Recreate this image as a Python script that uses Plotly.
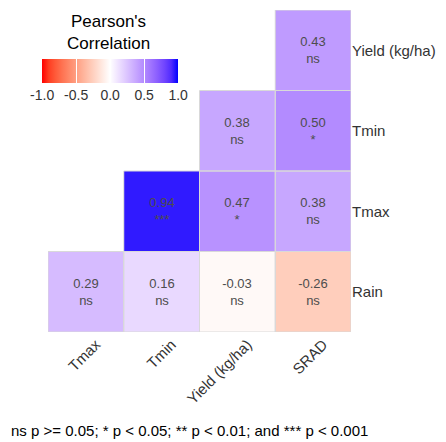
import plotly.graph_objects as go
import numpy as np

cols = ["Tmax", "Tmin", "Yield (kg/ha)", "SRAD"]
rows = ["Rain", "Tmax", "Tmin", "Yield (kg/ha)"]  # bottom to top
corr = [
    [0.29, 0.16, -0.03, -0.26],
    [None, 0.94, 0.47, 0.38],
    [None, None, 0.38, 0.50],
    [None, None, None, 0.43],
]
sig = [
    ["ns", "ns", "ns", "ns"],
    [None, "***", "*", "ns"],
    [None, None, "ns", "*"],
    [None, None, None, "ns"],
]
cbar_ticks = [-1.0, -0.5, 0.0, 0.5, 1.0]
caption = "ns p >= 0.05; * p < 0.05; ** p < 0.01; and *** p < 0.001"


def srgb_to_lab(c):
    c = np.array(c) / 255.0
    lin = np.where(c <= 0.04045, c / 12.92, ((c + 0.055) / 1.055) ** 2.4)
    M = np.array([[0.4124, 0.3576, 0.1805], [0.2126, 0.7152, 0.0722], [0.0193, 0.1192, 0.9505]])
    xyz = M @ lin / np.array([0.95047, 1.0, 1.08883])
    f = np.where(xyz > 0.008856, np.cbrt(xyz), 7.787 * xyz + 16 / 116)
    return np.array([116 * f[1] - 16, 500 * (f[0] - f[1]), 200 * (f[1] - f[2])])


def lab_to_srgb(lab):
    L, a, b = lab
    fy = (L + 16) / 116
    fx = fy + a / 500
    fz = fy - b / 200
    f = np.array([fx, fy, fz])
    xyz = np.where(f ** 3 > 0.008856, f ** 3, (f - 16 / 116) / 7.787) * np.array([0.95047, 1.0, 1.08883])
    Mi = np.array([[3.2406, -1.5372, -0.4986], [-0.9689, 1.8758, 0.0415], [0.0557, -0.2040, 1.0570]])
    lin = np.clip(Mi @ xyz, 0, 1)
    c = np.where(lin <= 0.0031308, 12.92 * lin, 1.055 * lin ** (1 / 2.4) - 0.055)
    c = np.clip(np.round(c * 255), 0, 255).astype(int)
    return "rgb(%d,%d,%d)" % tuple(c)


red, white, blue = srgb_to_lab((255, 0, 0)), srgb_to_lab((255, 255, 255)), srgb_to_lab((0, 0, 255))
cscale = []
n = 10
for i in range(n + 1):
    t = i / n
    cscale.append([t / 2, lab_to_srgb(red + (white - red) * t)])
for i in range(1, n + 1):
    t = i / n
    cscale.append([0.5 + t / 2, lab_to_srgb(white + (blue - white) * t)])

text = [[("%.2f<br>%s" % (v, s)) if v is not None else "" for v, s in zip(rv, rs)] for rv, rs in zip(corr, sig)]

FONT = "Liberation Sans, Arial"

fig = go.Figure()
fig.add_trace(go.Heatmap(
    z=corr, x=cols, y=rows, zmin=-1, zmax=1, colorscale=cscale,
    text=text, texttemplate="%{text}",
    textfont=dict(family=FONT, size=13, color="#4D4D4D"),
    hoverongaps=False,
    colorbar=dict(
        orientation="h", x=0.205, xanchor="center", y=(332 - 59) / 322, yanchor="top",
        len=136, lenmode="pixels", thickness=24, thicknessmode="pixels",
        tickvals=cbar_ticks, ticktext=["%.1f" % v for v in cbar_ticks],
        ticks="inside", ticklen=24, tickcolor="white", tickwidth=1,
        tickfont=dict(family=FONT, size=14, color="#333333"),
        outlinewidth=0, xpad=0, ypad=0,
        title=dict(text="", side="top"),
    ),
))

# cell outlines
for i, r in enumerate(rows):
    for j, c in enumerate(cols):
        if corr[i][j] is not None:
            fig.add_shape(type="rect", x0=j - 0.5, x1=j + 0.5, y0=i - 0.5, y1=i + 0.5,
                          line=dict(color="#D9D9D9", width=1), layer="above")

fig.add_annotation(text="Pearson's<br>Correlation", xref="paper", yref="paper",
                   x=(108 - 48) / 303, y=(332 - 32) / 322, xanchor="center", yanchor="middle",
                   showarrow=False, font=dict(family=FONT, size=17, color="black"))

fig.add_annotation(text=caption, xref="paper", yref="paper",
                   x=(189 - 48) / 303, y=-(430 - 332) / 322, xanchor="center", yanchor="middle",
                   showarrow=False, font=dict(family=FONT, size=15, color="black"))

fig.update_xaxes(tickangle=-45, showgrid=False, zeroline=False, showline=False, ticks="",
                 tickfont=dict(family=FONT, size=15, color="#333333"),
                 ticklabelshift=10, range=[-0.5, 3.5])
fig.update_yaxes(side="right", showgrid=False, zeroline=False, showline=False, ticks="",
                 tickfont=dict(family=FONT, size=15, color="#333333"),
                 range=[-0.5, 3.5])

# page body has an 8px margin: shift everything up/left by 8px
fig.update_layout(
    width=438, height=434,
    margin=dict(l=40, r=95, t=2, b=110),
    paper_bgcolor="white", plot_bgcolor="white",
)

fig.write_html("out.html")
